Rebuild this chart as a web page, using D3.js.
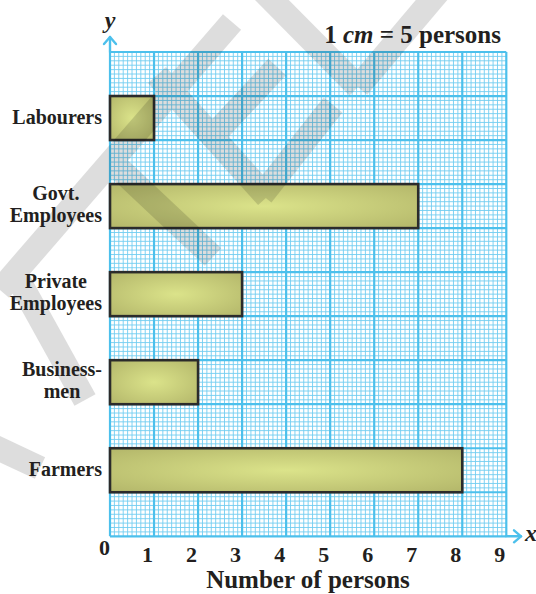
<!DOCTYPE html>
<html>
<head>
<meta charset="utf-8">
<script src="https://cdn.jsdelivr.net/npm/d3@7/dist/d3.min.js"></script>
<style>
  html, body { margin: 0; padding: 0; background: #fff; }
  svg { display: block; }
  text { font-family: "Liberation Serif", "Times New Roman", serif; font-weight: bold; fill: #231f20; }
</style>
</head>
<body>
<svg id="chart" width="536" height="594"></svg>
<script>
// Occupations and the length of each bar in cm (1 cm = 5 persons)
const categories = ["Labourers", "Govt. Employees", "Private Employees", "Businessmen", "Farmers"];
const labelLines = [["Labourers"], ["Govt.", "Employees"], ["Private", "Employees"], ["Business-", "men"], ["Farmers"]];
const values = [1, 7, 3, 2, 8];
const xTicks = [0, 1, 2, 3, 4, 5, 6, 7, 8, 9];
const gridCols = 9;   // cm across the graph sheet
const gridRows = 11;  // cm down the graph sheet

const svg = d3.select("#chart");
const gLeft = 110, gRight = 506.3, gTop = 52, gBottom = 536.3;

const x = d3.scaleLinear().domain([0, gridCols]).range([gLeft, gRight]);
const yGrid = d3.scaleLinear().domain([0, gridRows]).range([gBottom, gTop]);
const y = d3.scaleBand().domain(categories).range([gTop, gBottom])
  .paddingInner(0.5).paddingOuter(0.5);

const blueMinor = "#72cdf1", blueMajor = "#4cc0ec";

// graph paper: millimetre lines then centimetre lines
const grid = svg.append("g");
const minorX = d3.range(0, gridCols * 10 + 1).filter(i => i % 10 !== 0).map(i => i / 10);
const minorY = d3.range(0, gridRows * 10 + 1).filter(i => i % 10 !== 0).map(i => i / 10);
grid.selectAll(".mx").data(minorX).join("line")
  .attr("x1", d => x(d)).attr("x2", d => x(d)).attr("y1", gTop).attr("y2", gBottom)
  .attr("stroke", blueMinor).attr("stroke-width", 0.9);
grid.selectAll(".my").data(minorY).join("line")
  .attr("y1", d => yGrid(d)).attr("y2", d => yGrid(d)).attr("x1", gLeft).attr("x2", gRight)
  .attr("stroke", blueMinor).attr("stroke-width", 0.9);
grid.selectAll(".Mx").data(d3.range(0, gridCols + 1)).join("line")
  .attr("x1", d => x(d)).attr("x2", d => x(d)).attr("y1", gTop).attr("y2", gBottom)
  .attr("stroke", blueMajor).attr("stroke-width", 2.2);
grid.selectAll(".My").data(d3.range(0, gridRows + 1)).join("line")
  .attr("y1", d => yGrid(d)).attr("y2", d => yGrid(d)).attr("x1", gLeft).attr("x2", gRight)
  .attr("stroke", blueMajor).attr("stroke-width", 2.2);

// axis arrows
const arrows = svg.append("g").attr("stroke", blueMajor).attr("stroke-width", 2.4)
  .attr("fill", "none").attr("stroke-linecap", "round").attr("stroke-linejoin", "round");
arrows.append("line").attr("x1", x(0)).attr("x2", x(0)).attr("y1", gTop).attr("y2", 37);
arrows.append("path").attr("d", `M${x(0) - 6},44 L${x(0)},37 L${x(0) + 6},44`);
arrows.append("line").attr("x1", gRight).attr("x2", 521).attr("y1", gBottom).attr("y2", gBottom);
arrows.append("path").attr("d", `M514,${gBottom - 6} L521,${gBottom} L514,${gBottom + 6}`);

// bar fill
const defs = svg.append("defs");
const grad = defs.append("radialGradient").attr("id", "barFill")
  .attr("cx", 0.5).attr("cy", 0.5).attr("r", 0.72);
grad.append("stop").attr("offset", "0%").attr("stop-color", "#dbe38a");
grad.append("stop").attr("offset", "100%").attr("stop-color", "#b2b569");

svg.append("g").selectAll("rect").data(categories).join("rect")
  .attr("x", x(0))
  .attr("y", d => y(d))
  .attr("width", (d, i) => x(values[i]) - x(0))
  .attr("height", y.bandwidth())
  .attr("fill", "url(#barFill)")
  .attr("stroke", "#2b2b2b").attr("stroke-width", 2.6);

// faint diagonal publisher stamp across the sheet
const stamp = [
  [0, 290, 232, 22], [110, 160, 213, 257], [157, 75, 267, 197], [212, 137, 277, 67],
  [262, 195, 333, 105], [262, -10, 358, 87], [358, 87, 440, -10], [12, 268, 85, 400],
  [-20, 440, 40, 468]
];
svg.append("g").attr("opacity", 0.13).selectAll("line").data(stamp).join("line")
  .attr("x1", d => d[0]).attr("y1", d => d[1]).attr("x2", d => d[2]).attr("y2", d => d[3])
  .attr("stroke", "#000").attr("stroke-width", 24);

// category labels (multi-line ones centred as a block, right edge at 102)
const labelRight = 102;
categories.forEach((c, i) => {
  const lines = labelLines[i];
  const cy = y(c) + y.bandwidth() / 2;
  const g = svg.append("g");
  const texts = lines.map((ln, k) => g.append("text")
    .style("font-size", "20px")
    .attr("y", lines.length === 1 ? cy + 6 : cy - 6 + k * 21.5)
    .text(ln));
  if (lines.length === 1) {
    texts[0].attr("x", labelRight).attr("text-anchor", "end");
  } else {
    const w = d3.max(texts, t => t.node().getComputedTextLength());
    texts.forEach(t => t.attr("x", labelRight - w / 2).attr("text-anchor", "middle"));
  }
});

// x-axis tick numbers
const xAxis = d3.axisBottom(x).tickValues(xTicks).tickSize(0).tickFormat(d3.format("d"));
const axG = svg.append("g").attr("transform", `translate(0,${gBottom})`).call(xAxis);
axG.select(".domain").remove();
axG.selectAll("text")
  .style("font-family", "'Liberation Serif', serif").style("font-weight", "bold")
  .style("font-size", "22px").style("fill", "#231f20")
  .attr("dy", null)
  .attr("y", d => d === 0 ? 19 : 26)
  .attr("x", d => d === 0 ? -6 : -7);

// axis names
svg.append("text").attr("x", x(0)).attr("y", 28).attr("text-anchor", "middle")
  .style("font-size", "24px").style("font-style", "italic").text("y");
svg.append("text").attr("x", 525).attr("y", 541)
  .style("font-size", "24px").style("font-style", "italic").text("x");
svg.append("text").attr("x", 308).attr("y", 588).attr("text-anchor", "middle")
  .style("font-size", "25px").text("Number of persons");

// scale note
const note = svg.append("text").attr("x", 501).attr("y", 42.5).attr("text-anchor", "end")
  .style("font-size", "25px");
note.append("tspan").text("1 ");
note.append("tspan").style("font-style", "italic").text("cm");
note.append("tspan").text(" = 5 persons");
</script>
</body>
</html>
